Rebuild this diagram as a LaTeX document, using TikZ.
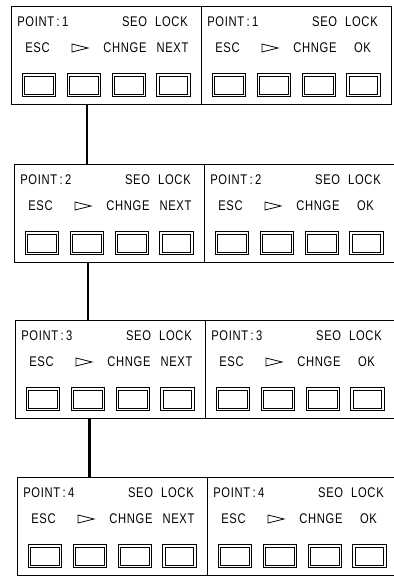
\documentclass[tikz,border=0pt]{standalone}
\usepackage{fontspec}
\newfontfamily\lcdfont{Liberation Sans}[FakeStretch=0.8,LetterSpace=5]
\begin{document}
\begin{tikzpicture}[x=0.75pt,y=-0.75pt,
  panel/.style={draw,line width=0.6pt,minimum width=142.5pt,minimum height=73.5pt,inner sep=0pt,anchor=north west},
  lcd/.style={font=\lcdfont\fontsize{10.5}{11}\selectfont,inner sep=0pt},
  btn/.style={draw,line width=0.6pt,minimum width=25pt,minimum height=17pt,inner sep=0pt,
    path picture={\draw[line width=0.5pt] ([shift={(1.8pt,1.8pt)}]path picture bounding box.south west) rectangle ([shift={(-1.8pt,-1.8pt)}]path picture bounding box.north east);}},
  tri/.style={line width=0.6pt,line join=miter},
  conn/.style={line width=1.6pt}]
\useasboundingbox (0,0) rectangle (393,578);
\newcommand\drawrow[3]{%
  \node[panel] (pl#1a) at (#2,#3) {};
  \node[panel] (pl#1b) at (#2+190,#3) {};
  \foreach \s/\last/\sd in {0/NEXT/a,190/OK/b}{
    \node[lcd,anchor=west] (pt#1\sd) at (#2+\s+6,#3+15.5) {POINT\,:\,#1};
    \node[lcd,anchor=east] (sq#1\sd) at (#2+\s+177,#3+15.5) {SEO\hspace{6pt}LOCK};
    \node[lcd] (esc#1\sd) at (#2+\s+26.5,#3+42) {ESC};
    \draw[tri] (#2+\s+61,#3+38) -- (#2+\s+77,#3+42) -- (#2+\s+61,#3+46) -- cycle;
    \node[lcd] (ch#1\sd) at (#2+\s+114,#3+42) {CHNGE};
    \node[lcd] (nx#1\sd) at (#2+\s+161.5,#3+42) {\last};
    \node[btn] (ba#1\sd) at (#2+\s+28,#3+79) {};
    \node[btn] (bb#1\sd) at (#2+\s+73,#3+79) {};
    \node[btn] (bc#1\sd) at (#2+\s+118,#3+79) {};
    \node[btn] (bd#1\sd) at (#2+\s+162.5,#3+79) {};
  }
}
\drawrow{1}{11}{6}
\drawrow{2}{14}{164}
\drawrow{3}{15}{320}
\drawrow{4}{17}{477}
\coordinate (k1) at (87,0);
\coordinate (k2) at (88,0);
\coordinate (k3) at (89.5,0);
\draw[conn] (k1 |- pl1a.south) -- (k1 |- pl2a.north);
\draw[conn] (k2 |- pl2a.south) -- (k2 |- pl3a.north);
\draw[conn] (k3 |- pl3a.south) -- (k3 |- pl4a.north);
\end{tikzpicture}
\end{document}
